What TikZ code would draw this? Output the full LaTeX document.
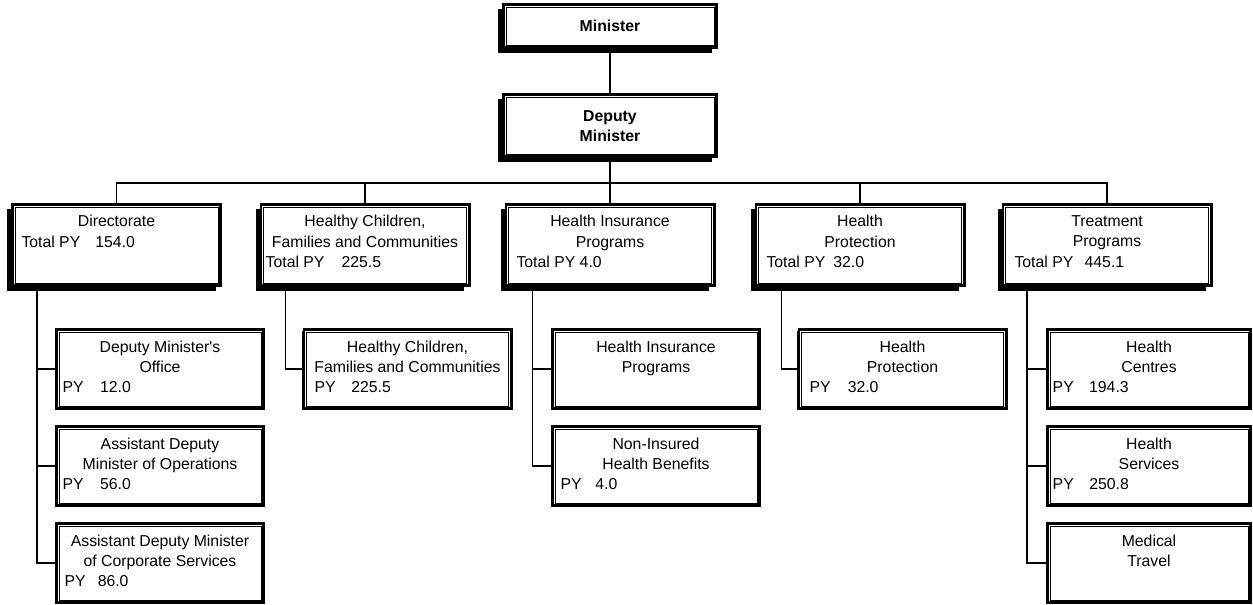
\documentclass[tikz,border=0pt]{standalone}
\usepackage{fontspec}
\setmainfont{Liberation Sans}
\usetikzlibrary{shadows}
\tikzset{
  orgbox/.style={draw, line width=2.6pt, fill=white, inner sep=0pt},
  headbox/.style={orgbox, drop shadow={shadow xshift=-5pt, shadow yshift=-5pt, opacity=1, fill=black}},
  rowbox/.style={headbox, minimum width=208.4pt, minimum height=81.4pt},
  subbox/.style={orgbox, drop shadow={shadow xshift=-1.5pt, shadow yshift=-1.5pt, opacity=1, fill=black},
    minimum width=207.4pt, minimum height=79.4pt},
  ttl/.style={anchor=north, inner sep=0pt, align=center, font=\fontsize{15.8}{20.3}\selectfont},
  pyl/.style={anchor=base west, inner sep=0pt, font=\fontsize{15.8}{20.3}\selectfont},
  conn/.style={line width=1.2pt},
  frame/.style={line width=0.9pt}
}
\begin{document}
\begin{tikzpicture}[x=1pt, y=-1pt]
\useasboundingbox (0,0) rectangle (1253,605);

% head of the ministry
\node[headbox, minimum width=213.4pt, minimum height=43.4pt] (mnst) at (610,26) {};
\node[headbox, minimum width=213.4pt, minimum height=62.4pt] (dep) at (610,125.5) {};

% divisions
\node[rowbox] (dir) at (116.5,245) {};
\node[rowbox] (hc)  at (365,245) {};
\node[rowbox] (hip) at (610,245) {};
\node[rowbox] (hp)  at (860,245) {};
\node[rowbox] (tr)  at (1107,245) {};

% branches
\node[subbox] (dmo)  at (160,369) {};
\node[subbox] (ado)  at (160,466) {};
\node[subbox] (adc)  at (160,563) {};
\node[subbox] (hcs)  at (407.5,369) {};
\node[subbox] (hips) at (656,369) {};
\node[subbox] (nihb) at (656,466) {};
\node[subbox] (hps)  at (902.5,369) {};
\node[subbox, minimum width=203.4pt] (hcen) at (1149,369) {};
\node[subbox, minimum width=203.4pt] (hser) at (1149,466) {};
\node[subbox, minimum width=203.4pt] (mt)   at (1149,563) {};

% thin inner frame of every box
\foreach \b in {mnst,dep,dir,hc,hip,hp,tr,dmo,ado,adc,hcs,hips,nihb,hps,hcen,hser,mt}
  \draw[frame] ([shift={(4pt,-4pt)}]\b.north west) rectangle ([shift={(-4pt,4pt)}]\b.south east);

% reporting lines
\coordinate (bus) at (610,183);
\draw[conn] (mnst.south) -- (dep.north);
\draw[conn] (dep.south) -- (bus);
\draw[conn] (dir.north) |- (bus) -| (tr.north);
\foreach \b in {hc,hip,hp} \draw[conn] (\b.north) -- (\b.north |- bus);

\coordinate (dirX) at (37,0);
\coordinate (hcX)  at (285.5,0);
\coordinate (hipX) at (532.5,0);
\coordinate (hpX)  at (781.5,0);
\coordinate (trX)  at (1027,0);
\foreach \s in {dmo,ado,adc} \draw[conn] (dir.south -| dirX) |- (\s.west);
\draw[conn] (hc.south -| hcX) |- (hcs.west);
\foreach \s in {hips,nihb} \draw[conn] (hip.south -| hipX) |- (\s.west);
\draw[conn] (hp.south -| hpX) |- (hps.west);
\foreach \s in {hcen,hser,mt} \draw[conn] (tr.south -| trX) |- (\s.west);

% titles
\node[ttl] (mnstT) at ([yshift=-17.3pt]mnst.north) {\bfseries Minister};
\node[ttl] (depT)  at ([yshift=-17.3pt]dep.north) {\bfseries Deputy\\\bfseries Minister};

\node[ttl] (dirT) at ([yshift=-12.3pt]dir.north) {Directorate};
\node[ttl] (hcT)  at ([yshift=-12.3pt]hc.north)  {Healthy Children,\\Families and Communities};
\node[ttl] (hipT) at ([yshift=-12.3pt]hip.north) {Health Insurance\\Programs};
\node[ttl] (hpT)  at ([yshift=-12.3pt]hp.north)  {Health\\Protection};
\node[ttl] (trT)  at ([yshift=-12.3pt]tr.north)  {Treatment\\Programs};

\node[ttl] (dmoT)  at ([yshift=-12.5pt]dmo.north)  {Deputy Minister\textquotesingle s\\Office};
\node[ttl] (adoT)  at ([yshift=-12.5pt]ado.north)  {Assistant Deputy\\Minister of Operations};
\node[ttl] (adcT)  at ([yshift=-12.5pt]adc.north)  {Assistant Deputy Minister\\of Corporate Services};
\node[ttl] (hcsT)  at ([yshift=-12.5pt]hcs.north)  {Healthy Children,\\Families and Communities};
\node[ttl] (hipsT) at ([yshift=-12.5pt]hips.north) {Health Insurance\\Programs};
\node[ttl] (nihbT) at ([yshift=-12.5pt]nihb.north) {Non-Insured\\Health Benefits};
\node[ttl] (hpsT)  at ([yshift=-12.5pt]hps.north)  {Health\\Protection};
\node[ttl] (hcenT) at ([yshift=-12.5pt]hcen.north) {Health\\Centres};
\node[ttl] (hserT) at ([yshift=-12.5pt]hser.north) {Health\\Services};
\node[ttl] (mtT)   at ([yshift=-12.5pt]mt.north)   {Medical\\Travel};

% person-year figures
\node[pyl] (dirP) at ([shift={(10.3pt,-44.2pt)}]dir.north west) {Total PY\hspace{15.1pt}154.0};
\node[pyl] (hcP)  at ([shift={(6pt,-64.7pt)}]hc.north west)    {Total PY\hspace{17pt}225.5};
\node[pyl] (hipP) at ([shift={(11.8pt,-64.7pt)}]hip.north west) {Total PY 4.0};
\node[pyl] (hpP)  at ([shift={(11.8pt,-64.7pt)}]hp.north west)  {Total PY\hspace{8pt}32.0};
\node[pyl] (trP)  at ([shift={(12.8pt,-64.7pt)}]tr.north west)  {Total PY\hspace{11.3pt}445.1};

\node[pyl] (dmoP)  at ([shift={(7.5pt,-64.5pt)}]dmo.north west)  {PY\hspace{16.4pt}12.0};
\node[pyl] (adoP)  at ([shift={(7.5pt,-64.5pt)}]ado.north west)  {PY\hspace{16.4pt}56.0};
\node[pyl] (adcP)  at ([shift={(9.5pt,-64.5pt)}]adc.north west)  {PY\hspace{12pt}86.0};
\node[pyl] (hcsP)  at ([shift={(12pt,-64.5pt)}]hcs.north west)   {PY\hspace{15.6pt}225.5};
\node[pyl] (nihbP) at ([shift={(9.5pt,-64.5pt)}]nihb.north west) {PY\hspace{13.6pt}4.0};
\node[pyl] (hpsP)  at ([shift={(12pt,-64.5pt)}]hps.north west)   {PY\hspace{17pt}32.0};
\node[pyl] (hcenP) at ([shift={(6.5pt,-64.5pt)}]hcen.north west) {PY\hspace{15.4pt}194.3};
\node[pyl] (hserP) at ([shift={(6.5pt,-64.5pt)}]hser.north west) {PY\hspace{15.6pt}250.8};
\end{tikzpicture}
\end{document}
